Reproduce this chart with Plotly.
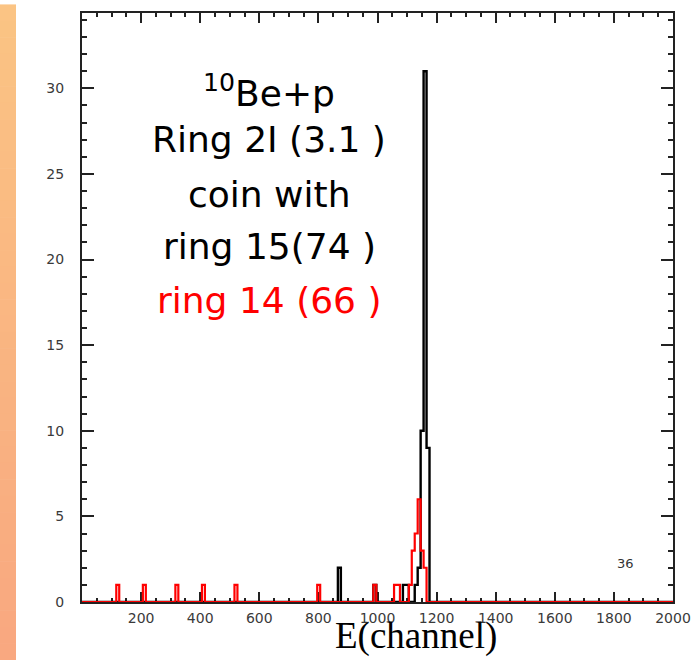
import numpy as np
import plotly.graph_objects as go

# ---- data ----
bin_width = 10
bin_offset = 6
black_bins = [866, 986, 1086, 1096, 1126, 1136, 1146, 1156, 1166]
black_counts = [2, 1, 1, 1, 1, 2, 10, 31, 9]
red_bins = [116, 206, 316, 406, 516, 796, 986, 1056, 1066, 1106, 1116, 1126, 1136, 1146, 1156]
red_counts = [1, 1, 1, 1, 1, 1, 1, 1, 1, 1, 3, 4, 6, 3, 2]
x_tick_vals = [200, 400, 600, 800, 1000, 1200, 1400, 1600, 1800, 2000]
y_tick_vals = [0, 5, 10, 15, 20, 25, 30]
label_lines = ["<sup>10</sup>Be+p", "Ring 2I (3.1 )", "coin with", "ring 15(74 )", "ring 14 (66 )"]
label_colors = ["black", "black", "black", "black", "red"]

X_MIN, X_MAX = 0, 2000
Y_MAX = 34.4


def step_arrays(bins, counts):
    lefts = np.arange(bin_offset, X_MAX, bin_width)
    vals = np.zeros(len(lefts))
    for b, c in zip(bins, counts):
        idx = int(round((b - bin_offset) / bin_width))
        vals[idx] = c
    x = np.concatenate([[X_MIN], lefts, [X_MAX]])
    y = np.concatenate([[0], vals, [0]])
    return x, y


fig = go.Figure()
bx, by = step_arrays(black_bins, black_counts)
rx, ry = step_arrays(red_bins, red_counts)
fig.add_trace(go.Scatter(x=bx, y=by, mode="lines", line=dict(color="black", width=2.4, shape="hv"),
                         hoverinfo="skip", showlegend=False, cliponaxis=False))
fig.add_trace(go.Scatter(x=rx, y=ry, mode="lines", line=dict(color="#ff0000", width=2.2, shape="hv"),
                         hoverinfo="skip", showlegend=False, cliponaxis=False))

W, H = 691, 660
L, R, T, B = 82, 18, 13, 58
pw, ph = W - L - R, H - T - B

axis_common = dict(showgrid=False, zeroline=False, showline=True, linecolor="#222", linewidth=2,
                   mirror="ticks", ticks="inside", tickcolor="#222", tickwidth=1.5,
                   tickfont=dict(family="DejaVu Sans", size=14, color="#3a3a3a"),
                   layer="below traces", automargin=False)

fig.update_layout(
    width=W, height=H,
    margin=dict(l=L, r=R, t=T, b=B, pad=0, autoexpand=False),
    paper_bgcolor="white", plot_bgcolor="white",
    xaxis=dict(range=[X_MIN, X_MAX], tickvals=x_tick_vals, ticklen=10,
               minor=dict(dtick=50, tick0=0, ticklen=4, ticks="inside", tickcolor="#222", tickwidth=1.5),
               ticklabelstandoff=2, **axis_common),
    yaxis=dict(range=[0, Y_MAX], tickvals=y_tick_vals, ticklen=12,
               minor=dict(dtick=1, tick0=0, ticklen=5, ticks="inside", tickcolor="#222", tickwidth=1.5),
               ticklabelstandoff=13, **axis_common),
)

# orange gradient strip at the left edge
n_strip = 40
top_c = np.array([251, 196, 132])
bot_c = np.array([249, 168, 128])
y_top_px, y_bot_px = 5, 660
for i in range(n_strip):
    f = i / (n_strip - 1)
    c = top_c + (bot_c - top_c) * f
    py0 = y_top_px + (y_bot_px - y_top_px) * i / n_strip
    py1 = y_top_px + (y_bot_px - y_top_px) * (i + 1) / n_strip
    fig.add_shape(type="rect", xref="paper", yref="paper",
                  x0=(0 - L) / pw, x1=(16 - L) / pw,
                  y0=(H - B - py1) / ph, y1=(H - B - py0) / ph + 0.001,
                  fillcolor="rgb(%d,%d,%d)" % tuple(c.astype(int)), line=dict(width=0), layer="below")

# big label text
line_centers_px = [91, 139, 194, 247, 300]
for txt, col, py in zip(label_lines, label_colors, line_centers_px):
    fig.add_annotation(text=txt, xref="paper", yref="paper", x=(269 - L) / pw, y=(H - B - py) / ph,
                       xanchor="center", yanchor="middle", showarrow=False,
                       font=dict(family="DejaVu Sans", size=36, color=col))

# axis title
fig.add_annotation(text="E(channel)", xref="paper", yref="paper", x=(416 - L) / pw, y=(H - B - 636) / ph,
                   xanchor="center", yanchor="middle", showarrow=False,
                   font=dict(family="Liberation Serif, Times New Roman", size=37, color="black"))

# small "36" label
fig.add_annotation(text="36", xref="paper", yref="paper", x=(625 - L) / pw, y=(H - B - 563) / ph,
                   xanchor="center", yanchor="middle", showarrow=False,
                   font=dict(family="DejaVu Sans", size=13, color="#333"))

fig.write_html("out.html")
